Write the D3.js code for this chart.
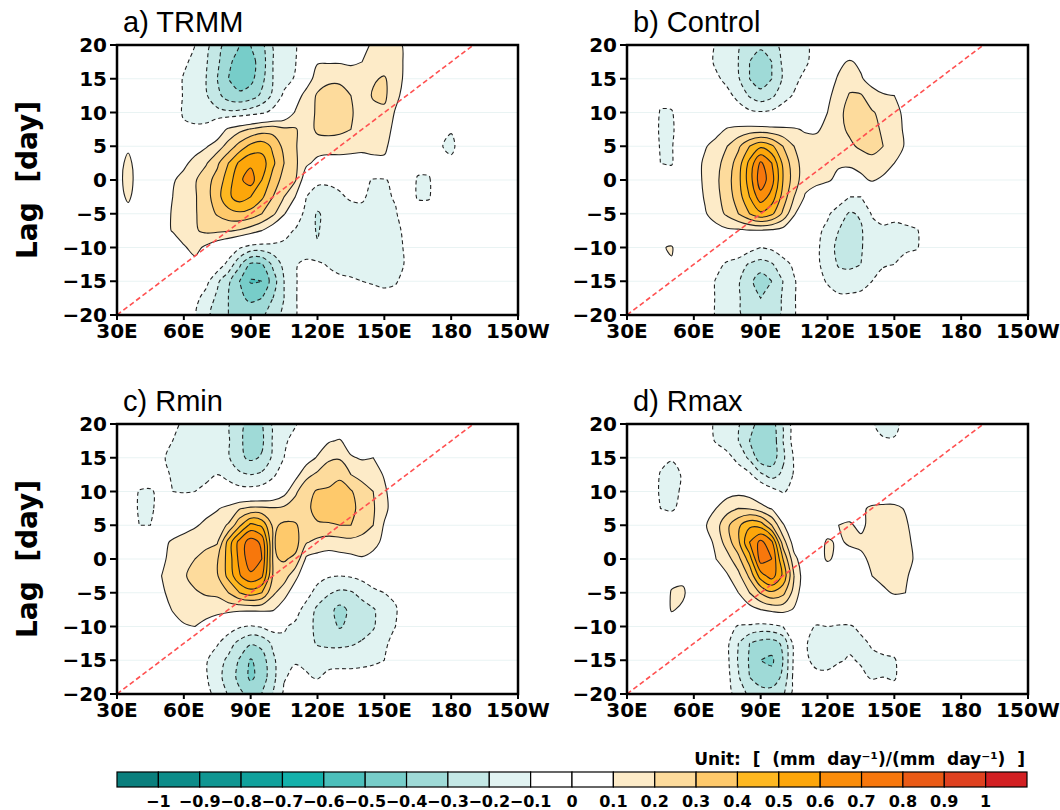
<!DOCTYPE html>
<html>
<head>
<meta charset="utf-8">
<script src="https://cdn.jsdelivr.net/npm/d3@7/dist/d3.min.js"></script>
<style>
  body { margin: 0; background: #fff; }
  svg { display: block; }
  text { font-family: "DejaVu Sans", sans-serif; }
</style>
</head>
<body>
<svg id="chart" width="1060" height="810"></svg>
<script>
// grid of the lag-longitude fields (rows: lag 20 -> -20, cols: 30E -> 150W)
var lons = [30,35,40,45,50,55,60,65,70,75,80,85,90,95,100,105,110,115,120,125,130,135,140,145,150,155,160,165,170,175,180,185,190,195,200,205,210];
var lags = [20,17.5,15,12.5,10,7.5,5,2.5,0,-2.5,-5,-7.5,-10,-12.5,-15,-17.5,-20];

// values in 0.01 (mm day-1)/(mm day-1)
var trmm = [
  [0,0,0,0,0,0, -6,-10,-17,-26,-35,-40, -40,-33,-19,-13,-11,-3, 0,2,4,6,8,11, 14,13,8,3,0,0, 0,0,0,0,0,0,0],
  [0,0,0,0,0,-3, -8,-13,-19,-28,-38,-44, -44,-35,-20,-14,-11,5, 9,9,9,8,10,13, 15,14,8,2,0,0, 0,0,0,0,0,0,0],
  [0,0,0,0,0,-4, -11,-15,-20,-30,-40,-45, -43,-33,-20,-14,-9,3, 16,19,19,17,13,19, 21,15,7,2,0,0, 0,0,0,0,0,0,0],
  [0,0,0,0,0,-3, -11,-14,-19,-27,-35,-38, -35,-28,-18,-8,3,15, 21,22,22,20,15,21, 22,13,5,0,0,0, 0,0,0,0,0,0,0],
  [0,0,0,0,0,-2, -12,-14,-15,-17,-18,-17, -15,-12,-7,0,11,14, 22,24,24,21,16,17, 18,9,3,0,0,0, 0,0,0,0,0,0,0],
  [0,2,0,0,0,-2, -7,-8,-7,2,12,17, 21,25,26,22,21,15, 22,23,22,20,15,14, 13,8,2,0,0,0, -9,0,0,0,0,0,0],
  [0,8,0,0,0,0, 2,6,9,15,24,34, 43,46,38,27,21,14, 15,15,15,14,13,13, 12,5,1,0,0,-9, -13,-4,0,0,0,0,0],
  [5,13,4,0,1,4, 8,13,19,28,40,52, 58,55,42,30,22,12, 7,5,5,5,5,7, 8,3,0,-7,-7,-4, -7,-2,0,0,0,0,0],
  [6,14,5,0,3,9, 13,19,26,34,45,58, 65,50,36,26,21,2, -8,-9,-8,-5,-6,-11, -11,-7,-3,-11,-11,-3, -2,0,0,0,0,0,0],
  [5,12,4,0,5,10, 14,19,26,36,48,55, 50,42,30,20,10,-10, -14,-12,-11,-9,-9,-12, -12,-9,-3,-11,-11,-2, 0,0,0,0,0,0,0],
  [0,6,0,0,5,11, 14,19,25,31,36,38, 36,30,22,11,-2,-14, -21,-17,-14,-13,-12,-13, -13,-11,-4,-5,-5,0, 0,0,0,0,0,0,0],
  [0,0,0,0,4,11, 15,19,22,22,21,19, 15,10,3,-6,-11,-15, -21,-15,-14,-14,-14,-14, -13,-12,-8,-2,0,0, 0,0,0,0,0,0,0],
  [0,0,0,0,0,0, 9,13,8,2,-3,-9, -14,-15,-14,-13,-14,-17, -19,-15,-14,-14,-14,-13, -13,-12,-9,-2,0,0, 0,0,0,0,0,0,0],
  [0,0,0,0,0,0, 3,7,3,-4,-13,-28, -42,-41,-28,-17,-11,-7, -8,-11,-13,-13,-13,-13, -13,-13,-9,-2,0,0, 0,0,0,0,0,0,0],
  [0,0,0,0,0,0, 0,0,-7,-18,-28,-40, -51,-50,-35,-20,-11,-5, -4,-6,-8,-9,-10,-11, -12,-11,-6,-1,0,0, 0,0,0,0,0,0,0],
  [0,0,0,0,0,0, 0,-7,-14,-22,-30,-38, -42,-40,-30,-20,-11,-4, -2,-3,-4,-4,-5,-6, -7,-6,-3,0,0,0, 0,0,0,0,0,0,0],
  [0,0,0,0,0,0, 0,-9,-17,-25,-30,-33, -34,-32,-25,-17,-11,-4, 0,0,0,0,0,0, 0,0,0,0,0,0, 0,0,0,0,0,0,0]
];

var control = [
  [0,0,0,0,0,0, 0,-5,-11,-14,-19,-25, -28,-24,-17,-14,-12,-6, 0,0,0,0,0,0, 0,0,0,0,0,0, 0,0,0,0,0,0,0],
  [0,0,0,0,0,0, 0,-5,-12,-15,-20,-30, -35,-30,-18,-14,-12,-5, 2,8,11,8,3,1, 0,0,0,0,0,0, 0,0,0,0,0,0,0],
  [0,0,0,0,0,0, 0,-2,-8,-13,-19,-30, -36,-30,-19,-13,-7,0, 6,11,15,11,6,3, 1,0,0,0,0,0, 0,0,0,0,0,0,0],
  [0,0,0,-6,-5,0, 0,0,-2,-7,-13,-21, -26,-22,-14,-9,-3,3, 8,14,21,21,14,11, 10,4,0,0,0,0, 0,0,0,0,0,0,0],
  [0,0,0,-11,-11,-2, 0,0,0,-2,-5,-8, -9,-8,-5,-1,3,7, 10,17,24,25,21,17, 14,7,2,0,0,0, 0,0,0,0,0,0,0],
  [0,0,0,-12,-12,-3, 0,2,6,11,13,14, 14,13,12,11,9,9, 12,17,22,24,22,19, 15,8,2,0,0,0, 0,0,0,0,0,0,0],
  [0,0,0,-11,-11,-2, 4,9,14,20,28,40, 48,42,30,20,14,13, 16,15,18,22,23,20, 15,9,2,0,0,0, 0,0,0,0,0,0,0],
  [0,0,0,-10,-11,-1, 5,12,17,24,35,53, 72,60,38,24,15,13, 13,11,11,13,17,15, 10,3,0,0,0,0, 0,0,0,0,0,0,0],
  [0,0,0,-3,-3,0, 5,12,18,26,37,55, 76,64,40,25,14,12, 11,8,7,8,11,8, 3,0,0,0,0,0, 0,0,0,0,0,0,0],
  [0,0,0,0,0,0, 4,11,17,25,35,50, 66,56,36,20,9,6, 3,-3,-10,-10,-3,0, 0,0,0,0,0,0, 0,0,0,0,0,0,0],
  [0,0,0,0,0,0, 2,9,15,22,30,40, 48,42,28,11,2,-2, -8,-16,-21,-19,-9,-6, -8,-6,-2,0,0,0, 0,0,0,0,0,0,0],
  [0,0,0,0,0,0, 0,3,6,8,8,9, 9,8,6,2,-2,-7, -13,-20,-24,-21,-14,-12, -12,-12,-11,-4,0,0, 0,0,0,0,0,0,0],
  [0,0,0,9,11,2, 0,0,0,0,0,-6, -10,-8,-4,-1,-2,-8, -15,-23,-25,-21,-14,-12, -12,-12,-11,-4,0,0, 0,0,0,0,0,0,0],
  [0,0,0,6,9,0, 0,0,-6,-12,-16,-21, -24,-21,-14,-8,-3,-8, -14,-21,-22,-20,-13,-11, -10,-6,-3,0,0,0, 0,0,0,0,0,0,0],
  [0,0,0,0,0,0, 0,-3,-11,-14,-19,-27, -36,-30,-20,-11,-4,-6, -11,-15,-15,-14,-10,-6, -3,0,0,0,0,0, 0,0,0,0,0,0,0],
  [0,0,0,0,0,0, 0,-3,-11,-14,-19,-25, -30,-26,-19,-11,-3,-2, -6,-8,-8,-7,-5,-2, 0,0,0,0,0,0, 0,0,0,0,0,0,0],
  [0,0,0,0,0,0, 0,-4,-11,-14,-19,-23, -25,-23,-19,-11,-3,0, 0,0,0,0,0,0, 0,0,0,0,0,0, 0,0,0,0,0,0,0]
];

var rmin = [
  [0,0,0,0,0,-7, -12,-14,-15,-17,-19,-27, -34,-31,-18,-14,-11,-4, 0,0,0,0,0,0, 0,0,0,0,0,0, 0,0,0,0,0,0,0],
  [0,0,0,0,-5,-10, -13,-15,-15,-16,-19,-28, -35,-32,-19,-12,-6,0, 4,9,11,5,3,3, 1,0,0,0,0,0, 0,0,0,0,0,0,0],
  [0,0,0,0,-9,-12, -13,-14,-13,-14,-19,-28, -32,-29,-18,-10,-3,5, 11,18,19,11,9,10, 3,0,0,0,0,0, 0,0,0,0,0,0,0],
  [0,0,0,0,-5,-12, -14,-13,-12,-10,-13,-18, -20,-18,-12,-4,6,17, 22,27,28,20,17,15, 9,2,0,0,0,0, 0,0,0,0,0,0,0],
  [0,0,-11,-12,-5,-10, -11,-10,-8,-5,-5,-6, -6,-5,-2,6,18,27, 31,31,34,31,24,20, 12,3,0,0,0,0, 0,0,0,0,0,0,0],
  [0,0,-12,-13,-3,0, 2,5,7,9,13,19, 22,22,21,22,25,28, 33,35,35,33,26,21, 13,4,0,0,0,0, 0,0,0,0,0,0,0],
  [0,0,-10,-10,2,5, 7,9,12,16,21,38, 53,48,28,32,31,26, 29,29,30,30,25,20, 9,2,0,0,0,0, 0,0,0,0,0,0,0],
  [0,0,0,0,8,11, 13,15,17,19,44,64, 75,68,29,34,34,21, 17,15,16,17,16,14, 7,1,0,0,0,0, 0,0,0,0,0,0,0],
  [0,0,0,0,8,13, 16,20,24,29,44,63, 76,70,29,31,28,8, 6,5,6,7,9,6, 2,0,0,0,0,0, 0,0,0,0,0,0,0],
  [0,0,0,0,10,16, 19,23,26,29,43,59, 68,62,29,25,13,2, -6,-9,-10,-9,-7,-5, -3,0,0,0,0,0, 0,0,0,0,0,0,0],
  [0,0,0,0,8,14, 17,19,21,22,30,40, 45,40,22,14,4,-6, -14,-19,-22,-21,-17,-12, -10,-8,-3,0,0,0, 0,0,0,0,0,0,0],
  [0,0,0,0,2,11, 14,15,15,14,13,12, 12,12,11,4,-6,-14, -22,-27,-33,-28,-24,-21, -15,-11,-4,0,0,0, 0,0,0,0,0,0,0],
  [0,0,0,0,0,3, 9,10,6,1,-5,-9, -11,-9,-6,-9,-12,-17, -22,-26,-31,-27,-24,-21, -14,-10,-4,0,0,0, 0,0,0,0,0,0,0],
  [0,0,0,0,0,0, 0,0,-5,-9,-16,-23, -29,-27,-18,-12,-13,-16, -21,-22,-22,-21,-19,-16, -12,-6,-2,0,0,0, 0,0,0,0,0,0,0],
  [0,0,0,0,0,0, 0,0,-9,-16,-22,-31, -41,-35,-22,-13,-11,-12, -13,-14,-14,-14,-13,-12, -10,-4,0,0,0,0, 0,0,0,0,0,0,0],
  [0,0,0,0,0,0, 0,0,-9,-17,-24,-33, -42,-36,-23,-11,-7,-9, -11,-7,-6,-6,-6,-5, -3,0,0,0,0,0, 0,0,0,0,0,0,0],
  [0,0,0,0,0,0, 0,0,-7,-13,-21,-28, -33,-30,-20,-8,-3,-2, -2,0,0,0,0,0, 0,0,0,0,0,0, 0,0,0,0,0,0,0]
];

var rmax = [
  [0,0,0,0,0,0, 0,-5,-12,-15,-19,-26, -34,-35,-19,-5,0,0, 0,0,0,-3,-9,-13, -13,-6,0,0,0,0, 0,0,0,0,0,0,0],
  [0,0,0,0,0,0, 0,-5,-11,-15,-20,-30, -38,-37,-20,-6,0,0, 0,0,0,0,-6,-9, -9,-4,0,0,0,0, 0,0,0,0,0,0,0],
  [0,0,0,-6,-9,-4, 0,0,-3,-7,-13,-22, -36,-36,-22,-9,0,0, 0,0,0,0,-2,-4, -4,0,0,0,0,0, 0,0,0,0,0,0,0],
  [0,0,0,-11,-14,-9, -1,0,0,-2,-5,-8, -18,-24,-18,-9,-1,0, 0,0,0,0,0,0, 0,0,0,0,0,0, 0,0,0,0,0,0,0],
  [0,0,0,-12,-14,-8, 0,0,2,6,7,5, 0,-6,-11,-7,0,0, 0,0,0,0,0,0, 0,0,0,0,0,0, 0,0,0,0,0,0,0],
  [0,0,0,-10,-12,-6, 0,5,10,16,20,19, 14,9,2,-2,0,0, 2,4,6,8,12,13, 13,9,3,0,0,0, 0,0,0,0,0,0,0],
  [0,0,0,0,0,0, 3,9,16,28,38,48, 46,30,11,2,0,4, 6,10,11,8,13,15, 15,12,4,0,0,0, 0,0,0,0,0,0,0],
  [0,0,0,0,0,0, 0,4,13,25,38,60, 73,62,25,5,0,6, 11,9,11,12,14,16, 16,14,6,0,0,0, 0,0,0,0,0,0,0],
  [0,0,0,0,0,0, 0,3,10,16,27,45, 75,70,40,13,3,6, 11,8,7,8,12,14, 15,14,8,0,0,0, 0,0,0,0,0,0,0],
  [0,0,0,0,6,7, 0,0,0,9,17,32, 55,65,48,20,3,2, 4,2,2,5,10,13, 14,12,4,0,0,0, 0,0,0,0,0,0,0],
  [0,0,0,0,11,12, 3,0,0,4,10,20, 31,38,33,16,2,0, 0,0,0,2,5,8, 11,10,3,0,0,0, 0,0,0,0,0,0,0],
  [0,0,0,0,11,8, 0,0,0,0,3,6, 10,13,14,9,1,0, 0,0,0,0,0,0, 0,0,0,0,0,0, 0,0,0,0,0,0,0],
  [0,0,0,0,3,2, 0,0,0,-6,-11,-12, -14,-13,-10,-5,-6,-11, -10,-11,-11,-8,-3,0, 0,0,0,0,0,0, 0,0,0,0,0,0,0],
  [0,0,0,0,0,0, 0,0,0,-8,-20,-30, -34,-35,-28,-7,-9,-14, -14,-12,-12,-12,-9,-6, -5,-2,0,0,0,0, 0,0,0,0,0,0,0],
  [0,0,0,0,0,0, 0,0,0,-8,-21,-31, -40,-42,-30,-8,-8,-13, -14,-11,-9,-11,-12,-12, -11,-4,0,0,0,0, 0,0,0,0,0,0,0],
  [0,0,0,0,0,0, 0,0,0,-7,-19,-30, -35,-36,-28,-7,-4,-7, -7,-5,-5,-8,-11,-10, -11,-5,0,0,0,0, 0,0,0,0,0,0,0],
  [0,0,0,0,0,0, 0,0,0,-6,-15,-22, -26,-26,-22,-6,-2,0, 0,0,0,0,-3,-5, -6,-2,0,0,0,0, 0,0,0,0,0,0,0]
];

var panelTitles = ["a) TRMM", "b) Control", "c) Rmin", "d) Rmax"];
var panelFields = [trmm, control, rmin, rmax];

var levels = [0.1, 0.2, 0.3, 0.4, 0.5, 0.6, 0.7, 0.8, 0.9];
var barLabels = ["\u22121","\u22120.9","\u22120.8","\u22120.7","\u22120.6","\u22120.5","\u22120.4","\u22120.3","\u22120.2","\u22120.1",
                 "0","0.1","0.2","0.3","0.4","0.5","0.6","0.7","0.8","0.9","1"];
var barColors = ["#0a7f7d","#0c8c89","#0f9692","#10a19c","#14b1ab","#4cbfbb","#77cdc9","#9fdad7","#c4e8e6","#e1f3f2",
                 "#ffffff","#ffffff",
                 "#fdebc8","#fddb9c","#fec96b","#feb821","#fda60a","#fb8d0a","#f7770c","#ea5a15","#df411f","#d21f22"];

var lonTicks = [30, 60, 90, 120, 150, 180, 210];
var lonTickLabels = ["30E", "60E", "90E", "120E", "150E", "180", "150W"];
var lagTicks = [20, 15, 10, 5, 0, -5, -10, -15, -20];
var lagTickLabels = ["20", "15", "10", "5", "0", "\u22125", "\u221210", "\u221215", "\u221220"];

// phase line (lon, lag)
var refLine = [[30, -20], [190, 20]];

var W = 401, H = 270;
var panelPos = [[117, 45], [627, 45], [117, 424], [627, 424]];

var svg = d3.select("#chart");

var x = d3.scaleLinear().domain([30, 210]).range([0, W]);
var y = d3.scaleLinear().domain([-20, 20]).range([H, 0]);

// d3.contours puts value k at grid coordinate k + 0.5
function gridLon(c) { return lons[0] + (c - 0.5) * (lons[1] - lons[0]); }
function gridLag(r) { return lags[0] + (r - 0.5) * (lags[1] - lags[0]); }

var ringLine = d3.line().curve(d3.curveCatmullRomClosed.alpha(0.5));

function contourPath(geom) {
    var s = "";
    geom.coordinates.forEach(function(poly) {
        poly.forEach(function(ring) {
            var pts = ring.slice(0, -1).map(function(p) {
                return [x(gridLon(p[0])), y(gridLag(p[1]))];
            });
            if (pts.length > 2) s += ringLine(pts);
        });
    });
    return s;
}

var contours = d3.contours().size([lons.length, lags.length]).thresholds(levels);

function drawPanel(i) {
    var g = svg.append("g")
        .attr("transform", "translate(" + panelPos[i][0] + "," + panelPos[i][1] + ")");

    var clipId = "clip" + i;
    g.append("clipPath").attr("id", clipId)
        .append("rect").attr("width", W).attr("height", H);

    var vals = d3.merge(panelFields[i]).map(function(v) { return v / 100; });
    var posC = contours(vals);
    var negC = contours(vals.map(function(v) { return -v; }));

    var plot = g.append("g").attr("clip-path", "url(#" + clipId + ")");

    plot.append("rect").attr("width", W).attr("height", H).attr("fill", "#fff");

    // faint lines at the lag ticks
    plot.selectAll(".hl")
        .data(lagTicks.slice(1, -1))
        .enter().append("line")
        .attr("x1", 0).attr("x2", W)
        .attr("y1", function(d) { return y(d); })
        .attr("y2", function(d) { return y(d); })
        .attr("stroke", "#e9f3f3")
        .attr("stroke-width", 1);

    plot.selectAll(".negfill")
        .data(negC)
        .enter().append("path")
        .attr("d", contourPath)
        .attr("fill-rule", "evenodd")
        .attr("fill", function(d, k) { return barColors[9 - k]; });

    plot.selectAll(".posfill")
        .data(posC)
        .enter().append("path")
        .attr("d", contourPath)
        .attr("fill-rule", "evenodd")
        .attr("fill", function(d, k) { return barColors[12 + k]; });

    plot.selectAll(".negline")
        .data(negC)
        .enter().append("path")
        .attr("d", contourPath)
        .attr("fill", "none")
        .attr("stroke", "#222")
        .attr("stroke-width", 1.1)
        .attr("stroke-dasharray", "4,3");

    plot.selectAll(".posline")
        .data(posC)
        .enter().append("path")
        .attr("d", contourPath)
        .attr("fill", "none")
        .attr("stroke", "#222")
        .attr("stroke-width", 1.1);

    plot.append("path")
        .datum(refLine)
        .attr("d", d3.line()
            .x(function(d) { return x(d[0]); })
            .y(function(d) { return y(d[1]); }))
        .attr("fill", "none")
        .attr("stroke", "#ff5050")
        .attr("stroke-width", 1.6)
        .attr("stroke-dasharray", "5,3");

    // frame and ticks
    g.append("rect")
        .attr("width", W).attr("height", H)
        .attr("fill", "none")
        .attr("stroke", "#000")
        .attr("stroke-width", 2.5);

    g.selectAll(".yt")
        .data(lagTicks)
        .enter().append("line")
        .attr("x1", -7).attr("x2", 0)
        .attr("y1", function(d) { return y(d); })
        .attr("y2", function(d) { return y(d); })
        .attr("stroke", "#000").attr("stroke-width", 2);

    g.selectAll(".yl")
        .data(lagTicks)
        .enter().append("text")
        .attr("x", -10)
        .attr("y", function(d) { return y(d); })
        .attr("dy", "0.36em")
        .attr("text-anchor", "end")
        .style("font-size", "20px")
        .style("font-weight", "bold")
        .text(function(d, k) { return lagTickLabels[k]; });

    g.selectAll(".xt")
        .data(lonTicks)
        .enter().append("line")
        .attr("x1", function(d) { return x(d); })
        .attr("x2", function(d) { return x(d); })
        .attr("y1", H).attr("y2", H + 5)
        .attr("stroke", "#000").attr("stroke-width", 2);

    g.selectAll(".xl")
        .data(lonTicks)
        .enter().append("text")
        .attr("x", function(d) { return x(d); })
        .attr("y", H + 23)
        .attr("text-anchor", "middle")
        .style("font-size", "20px")
        .style("font-weight", "bold")
        .text(function(d, k) { return lonTickLabels[k]; });

    g.append("text")
        .attr("x", 6)
        .attr("y", -13)
        .style("font-family", "'Liberation Sans', Arial, sans-serif")
        .style("font-size", "29px")
        .text(panelTitles[i]);

    if (i % 2 === 0) {
        g.append("text")
            .attr("transform", "translate(-80," + H / 2 + ")rotate(-90)")
            .attr("text-anchor", "middle")
            .style("font-size", "28px")
            .style("font-weight", "bold")
            .style("white-space", "pre")
            .text("Lag  [day]");
    }
}

for (var i = 0; i < 4; i++) drawPanel(i);

// colour bar
var cb = d3.scaleLinear().domain([0, barColors.length]).range([117, 1027]);
var cbY = 772, cbH = 15;

svg.selectAll(".cb")
    .data(barColors)
    .enter().append("rect")
    .attr("x", function(d, k) { return cb(k); })
    .attr("y", cbY)
    .attr("width", cb(1) - cb(0))
    .attr("height", cbH)
    .attr("fill", function(d) { return d; })
    .attr("stroke", "#000")
    .attr("stroke-width", 1.2);

svg.selectAll(".cbl")
    .data(barLabels)
    .enter().append("text")
    .attr("x", function(d, k) { return cb(k + 1); })
    .attr("y", 807)
    .attr("text-anchor", "middle")
    .style("font-size", "16px")
    .style("font-weight", "bold")
    .text(function(d) { return d; });

svg.append("text")
    .attr("x", 1025)
    .attr("y", 765)
    .attr("text-anchor", "end")
    .style("font-size", "17px")
    .style("font-weight", "bold")
    .style("white-space", "pre")
    .text("Unit:  [  (mm  day\u207B\u00B9)/(mm  day\u207B\u00B9)  ]");
</script>
</body>
</html>
